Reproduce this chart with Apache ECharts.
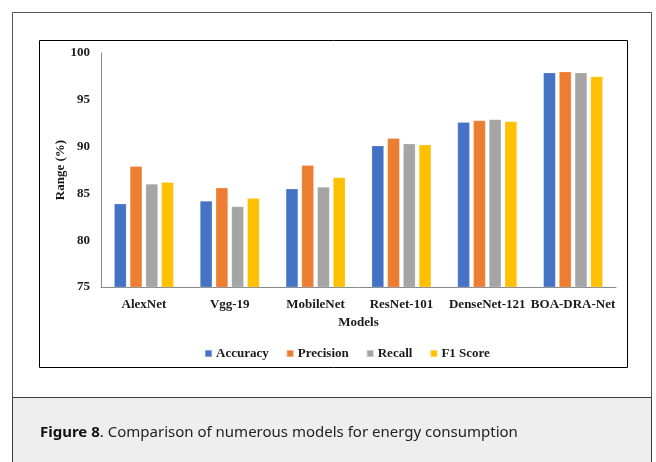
<!DOCTYPE html>
<html>
<head>
<meta charset="utf-8">
<script src="https://cdn.jsdelivr.net/npm/echarts@6/dist/echarts.min.js"></script>
<style>
  html, body { margin: 0; padding: 0; background: #ffffff; }
  #chart { width: 656px; height: 462px; }
</style>
</head>
<body>
<div id="chart"></div>
<script>
// Model names along the x axis
const models = ['AlexNet', 'Vgg-19', 'MobileNet', 'ResNet-101', 'DenseNet-121', 'BOA-DRA-Net'];

// Scores per metric (%)
const accuracy  = [83.9, 84.2, 85.5, 90.1, 92.6, 97.9];
const precision = [87.9, 85.6, 88.0, 90.9, 92.8, 98.0];
const recall    = [86.0, 83.6, 85.7, 90.3, 92.9, 97.9];
const f1Score   = [86.2, 84.5, 86.7, 90.2, 92.7, 97.5];

const metricNames = ['Accuracy', 'Precision', 'Recall', 'F1 Score'];
const metricValues = [accuracy, precision, recall, f1Score];
const metricColors = ['#4472C4', '#ED7D31', '#A5A5A5', '#FFC000'];

const serif = '"Liberation Serif", "Times New Roman", serif';
const textColor = '#1a1a1a';

const chart = echarts.init(document.getElementById('chart'), null, { renderer: 'canvas' });

chart.setOption({
  backgroundColor: '#ffffff',
  animation: false,
  color: metricColors,
  graphic: [
    // caption band
    { type: 'rect', z: -10, shape: { x: 12.5, y: 397.5, width: 639, height: 70 },
      style: { fill: '#EEEEEE', stroke: '#3a3a3a', lineWidth: 1 } },
    // outer frame
    { type: 'rect', z: -11, shape: { x: 12.5, y: 12.5, width: 639, height: 460 },
      style: { fill: '#ffffff', stroke: '#555555', lineWidth: 1 } },
    // chart frame
    { type: 'rect', z: -9, shape: { x: 39.5, y: 40.5, width: 588, height: 327 },
      style: { fill: 'rgba(0,0,0,0)', stroke: '#000000', lineWidth: 1 } },
    { type: 'text', left: 40, top: 425,
      style: {
        text: '{b|Figure 8}. Comparison of numerous models for energy consumption',
        fill: '#222222',
        font: '15px "Noto Sans", "Open Sans", sans-serif',
        rich: { b: { fontWeight: 'bold', fontSize: 15, fontFamily: '"Noto Sans", "Open Sans", sans-serif', fill: '#111111' } }
      } }
  ],
  legend: {
    data: metricNames,
    left: 199,
    top: 342,
    itemWidth: 7,
    itemHeight: 7,
    itemGap: 17,
    icon: 'rect',
    textStyle: { fontFamily: serif, fontWeight: 'bold', fontSize: 13, color: textColor, padding: [0, 0, 0, -1] }
  },
  grid: { left: 101, right: 40, top: 53, bottom: 175, containLabel: false },
  xAxis: {
    type: 'category',
    data: models,
    name: 'Models',
    nameLocation: 'middle',
    nameGap: 29,
    nameTextStyle: { fontFamily: serif, fontWeight: 'bold', fontSize: 13, color: textColor },
    axisLine: { lineStyle: { color: '#888888', width: 1 } },
    axisTick: { show: false },
    axisLabel: { fontFamily: serif, fontWeight: 'bold', fontSize: 13, color: textColor, margin: 11, interval: 0 }
  },
  yAxis: {
    type: 'value',
    min: 75,
    max: 100,
    interval: 5,
    name: 'Range (%)',
    nameLocation: 'middle',
    nameGap: 34,
    nameMoveOverlap: false,
    nameTextStyle: { fontFamily: serif, fontWeight: 'bold', fontSize: 13, color: textColor },
    axisLine: { show: true, lineStyle: { color: '#888888', width: 1 } },
    axisTick: { show: false },
    splitLine: { show: false },
    axisLabel: { fontFamily: serif, fontWeight: 'bold', fontSize: 13, color: textColor, margin: 11 }
  },
  series: metricNames.map((name, i) => ({
    name: name,
    type: 'bar',
    data: metricValues[i],
    barWidth: 12.3,
    barGap: '28%',
    itemStyle: { color: metricColors[i], borderColor: 'rgba(255,255,255,0.35)', borderWidth: 0.6 }
  }))
});
</script>
</body>
</html>
